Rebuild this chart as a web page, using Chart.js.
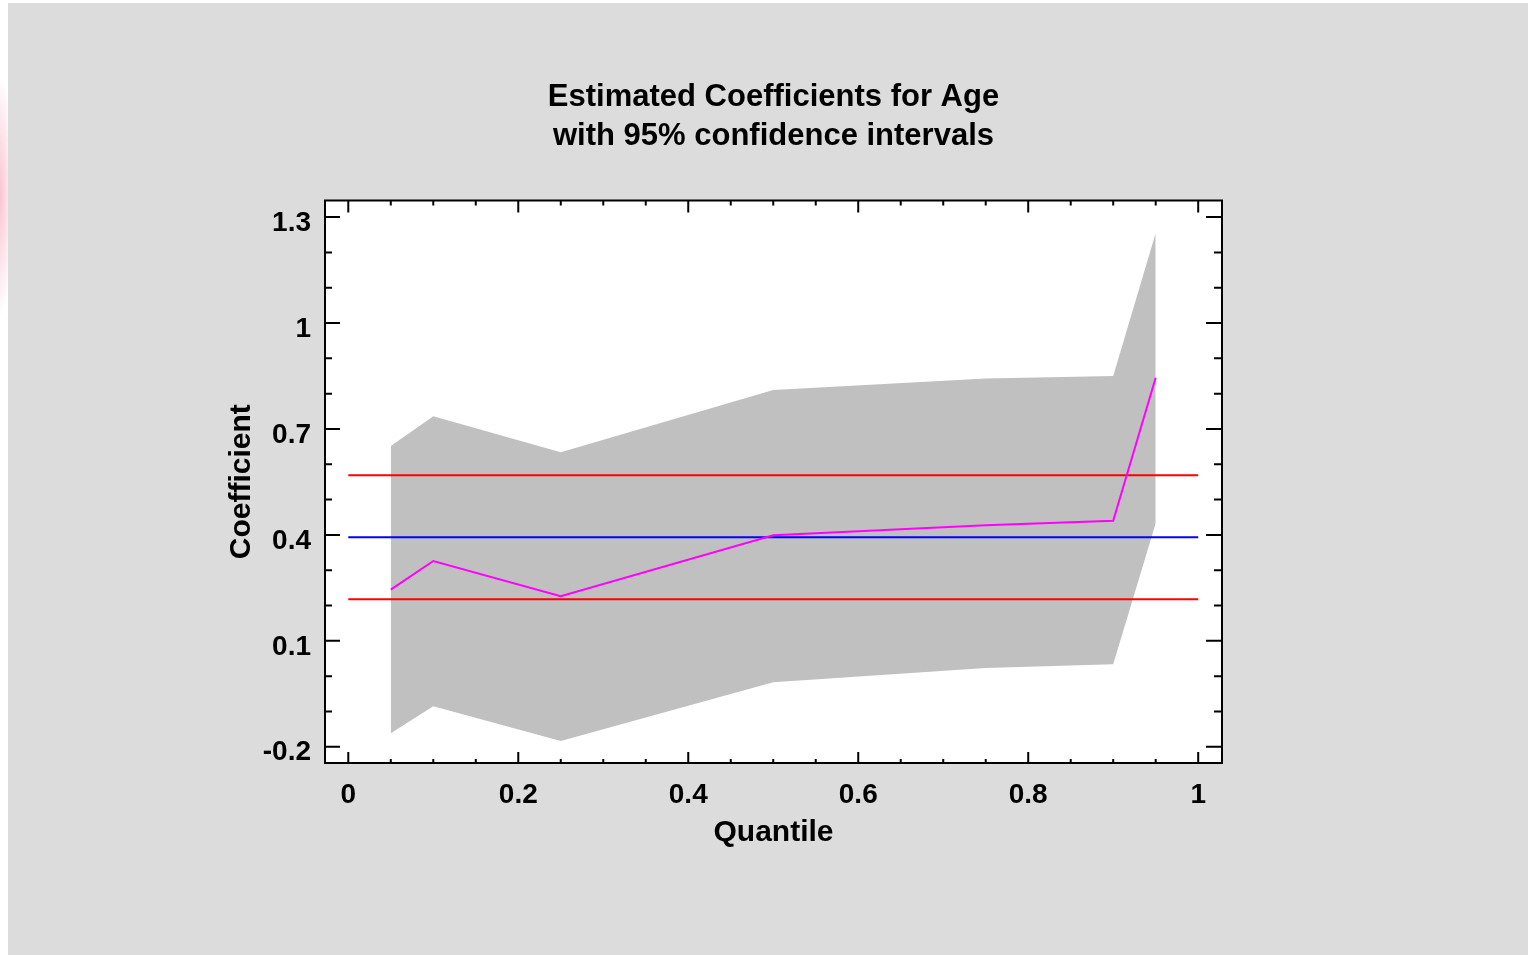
<!DOCTYPE html>
<html>
<head>
<meta charset="utf-8">
<script src="https://cdn.jsdelivr.net/npm/chart.js@4/dist/chart.umd.min.js"></script>
<style>
  html, body { margin: 0; padding: 0; }
  body {
    width: 1528px; height: 955px; overflow: hidden; position: relative;
    background: radial-gradient(ellipse 14px 120px at 0px 195px, rgba(248, 180, 200, 0.8), rgba(255, 255, 255, 0)) #ffffff;
  }
  #panel { position: absolute; left: 8px; top: 3px; right: 0; bottom: 0; background: #dcdcdc; }
  #wrap { position: absolute; left: 0; top: 0; width: 1528px; height: 955px; }
</style>
</head>
<body>
<div id="panel"></div>
<div id="wrap"><canvas id="chart" width="1528" height="955"></canvas></div>
<script>
// quantiles where the model was fitted
const quantiles = [0.05, 0.1, 0.25, 0.5, 0.75, 0.9, 0.95];
// estimated coefficient for Age and its 95% interval
const estimate = [0.245, 0.326, 0.226, 0.399, 0.427, 0.440, 0.845];
const upperCI = [0.652, 0.736, 0.634, 0.810, 0.843, 0.850, 1.255];
const lowerCI = [-0.162, -0.085, -0.184, -0.017, 0.023, 0.034, 0.433];
// least squares estimate with its limits, drawn across the whole range
const lineSpan = [0, 1];
const olsEstimate = 0.393;
const olsUpper = 0.569;
const olsLower = 0.218;
// tick labels
const xTicks = [0, 0.2, 0.4, 0.6, 0.8, 1];
const yTicks = [-0.2, 0.1, 0.4, 0.7, 1, 1.3];

Chart.defaults.font.family = '"Liberation Sans", Arial, sans-serif';
Chart.defaults.color = '#000';

function pts(xs, ys) {
  return xs.map((x, i) => ({ x: x, y: ys[i] }));
}
function flat(v) {
  return lineSpan.map((x) => ({ x: x, y: v }));
}

// minor ticks between the labelled ones
function minors(major, parts) {
  const out = [];
  for (let i = 0; i < major.length - 1; i++) {
    const step = (major[i + 1] - major[i]) / parts;
    for (let k = 1; k < parts; k++) out.push(major[i] + k * step);
  }
  return out;
}

const framePlugin = {
  id: 'frame',
  afterDatasetsDraw(chart) {
    const { ctx, chartArea: a, scales } = chart;
    ctx.save();
    ctx.strokeStyle = '#000';
    ctx.lineWidth = 2;
    ctx.beginPath();
    const mark = (x1, y1, x2, y2) => { ctx.moveTo(x1, y1); ctx.lineTo(x2, y2); };
    xTicks.forEach((v) => {
      const p = scales.x.getPixelForValue(v);
      mark(p, a.bottom, p, a.bottom - 11);
      mark(p, a.top, p, a.top + 12);
    });
    minors(xTicks, 4).forEach((v) => {
      const p = scales.x.getPixelForValue(v);
      mark(p, a.bottom, p, a.bottom - 4);
      mark(p, a.top, p, a.top + 5);
    });
    yTicks.forEach((v) => {
      const p = scales.y.getPixelForValue(v);
      mark(a.left, p, a.left + 15, p);
      mark(a.right, p, a.right - 16, p);
    });
    minors(yTicks, 3).forEach((v) => {
      const p = scales.y.getPixelForValue(v);
      mark(a.left, p, a.left + 7, p);
      mark(a.right, p, a.right - 8, p);
    });
    ctx.stroke();
    ctx.strokeRect(a.left, a.top, a.right - a.left, a.bottom - a.top);
    ctx.restore();
  }
};

const whiteArea = {
  id: 'whiteArea',
  beforeDraw(chart) {
    const { ctx, chartArea: a } = chart;
    ctx.save();
    ctx.fillStyle = '#fff';
    ctx.fillRect(a.left, a.top, a.right - a.left, a.bottom - a.top);
    ctx.restore();
  }
};

new Chart(document.getElementById('chart'), {
  type: 'line',
  data: {
    datasets: [
      {
        label: 'lower',
        data: pts(quantiles, lowerCI),
        borderColor: 'transparent',
        borderWidth: 0,
        pointRadius: 0,
        fill: false,
        order: 5,
      },
      {
        label: 'upper',
        data: pts(quantiles, upperCI),
        borderColor: 'transparent',
        borderWidth: 0,
        backgroundColor: '#c0c0c0',
        pointRadius: 0,
        fill: '-1',
        order: 4,
      },
      {
        label: 'olsUpper',
        data: flat(olsUpper),
        borderColor: '#ff0000',
        borderWidth: 2,
        pointRadius: 0,
        order: 3,
      },
      {
        label: 'olsLower',
        data: flat(olsLower),
        borderColor: '#ff0000',
        borderWidth: 2,
        pointRadius: 0,
        order: 3,
      },
      {
        label: 'ols',
        data: flat(olsEstimate),
        borderColor: '#0000ff',
        borderWidth: 2,
        pointRadius: 0,
        order: 2,
      },
      {
        label: 'estimate',
        data: pts(quantiles, estimate),
        borderColor: '#ff00ff',
        borderWidth: 2,
        pointRadius: 0,
        order: 1,
      },
    ],
  },
  options: {
    responsive: false,
    animation: false,
    layout: {
      padding: { left: 200, right: 306, top: 0, bottom: 80 },
    },
    scales: {
      x: {
        type: 'linear',
        min: -0.0274,
        max: 1.028,
        afterBuildTicks: (s) => { s.ticks = xTicks.map((v) => ({ value: v })); },
        afterFit: (s) => { s.height = 112; },
        grid: { display: false, drawTicks: false },
        border: { display: false },
        ticks: {
          padding: 15,
          maxRotation: 0,
          font: { size: 28, weight: 'bold' },
          callback: (v) => String(v),
        },
        title: {
          display: true,
          text: 'Quantile',
          font: { size: 30, weight: 'bold' },
          padding: { top: 0, bottom: 24 },
        },
      },
      y: {
        type: 'linear',
        min: -0.246,
        max: 1.347,
        afterBuildTicks: (s) => { s.ticks = yTicks.map((v) => ({ value: v })); },
        afterFit: (s) => { s.width = 125; },
        grid: { display: false, drawTicks: false },
        border: { display: false },
        ticks: {
          padding: 14,
          labelOffset: 6,
          font: { size: 28, weight: 'bold' },
          callback: (v) => String(v),
        },
        title: {
          display: true,
          text: 'Coefficient',
          font: { size: 30, weight: 'bold' },
          padding: { top: 24, bottom: 0 },
        },
      },
    },
    plugins: {
      legend: { display: false },
      tooltip: { enabled: false },
      title: {
        display: true,
        fullSize: false,
        text: ['Estimated Coefficients for Age', 'with 95% confidence intervals'],
        font: { size: 31, weight: 'bold', lineHeight: 1.25 },
        padding: { top: 78, bottom: 45 },
      },
    },
    elements: {
      line: { tension: 0 },
    },
  },
  plugins: [whiteArea, framePlugin],
});
</script>
</body>
</html>
